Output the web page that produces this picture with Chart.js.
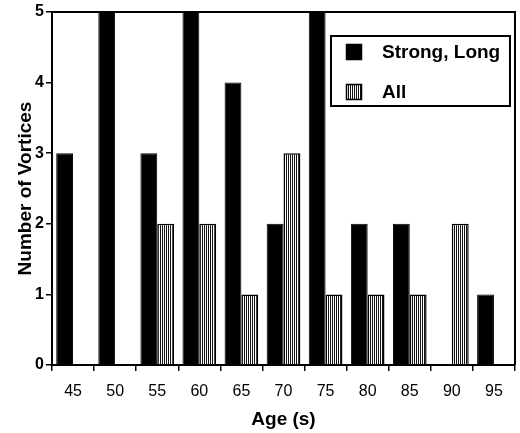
<!DOCTYPE html>
<html>
<head>
<meta charset="utf-8">
<script src="https://cdn.jsdelivr.net/npm/chart.js@4/dist/chart.umd.min.js"></script>
<style>
  html, body { margin: 0; padding: 0; background: #fff; }
  #wrap { width: 520px; height: 433px; }
</style>
</head>
<body>
<div id="wrap"><canvas id="c" width="520" height="433"></canvas></div>
<script>
const ages = ['45', '50', '55', '60', '65', '70', '75', '80', '85', '90', '95'];
const strongLong = [3, 5, 3, 5, 4, 2, 5, 2, 2, 0, 1];
const allVortices = [0, 0, 2, 2, 1, 3, 1, 1, 1, 2, 0];
const yTicks = [0, 1, 2, 3, 4, 5];

const FONT = '"Liberation Sans", Arial, sans-serif';

// vertical stripe fill for the "All" bars
const hatch = (() => {
  const p = document.createElement('canvas');
  p.width = 2; p.height = 4;
  const g = p.getContext('2d');
  g.fillStyle = '#fff';
  g.fillRect(0, 0, 2, 4);
  g.fillStyle = '#111';
  g.fillRect(0, 0, 1, 4);
  return g.createPattern(p, 'repeat');
})();

const frameAndLegend = {
  id: 'frameAndLegend',
  afterDraw(chart) {
    const { ctx, chartArea: a } = chart;
    ctx.save();
    ctx.strokeStyle = '#000';
    ctx.lineWidth = 2;
    ctx.beginPath();
    ctx.moveTo(a.left, a.top);
    ctx.lineTo(a.right, a.top);
    ctx.lineTo(a.right, a.bottom);
    ctx.stroke();

    // legend box, top right
    const x = a.right - 184, y = a.top + 24, w = 179, h = 70;
    ctx.fillStyle = '#fff';
    ctx.fillRect(x, y, w, h);
    ctx.strokeRect(x, y, w, h);
    const items = [
      { fill: '#000', label: chart.data.datasets[0].label, yy: y + 16 },
      { fill: hatch, label: chart.data.datasets[1].label, yy: y + 56 }
    ];
    ctx.font = 'bold 19px ' + FONT;
    ctx.textBaseline = 'middle';
    items.forEach(it => {
      ctx.fillStyle = it.fill;
      ctx.fillRect(x + 15, it.yy - 8, 16, 16);
      ctx.lineWidth = 1.5;
      ctx.strokeRect(x + 15.5, it.yy - 7.5, 15, 15);
      ctx.fillStyle = '#000';
      ctx.fillText(it.label, x + 51, it.yy + 1);
    });
    ctx.restore();
  }
};

new Chart(document.getElementById('c'), {
  type: 'bar',
  data: {
    labels: ages,
    datasets: [
      { label: 'Strong, Long', data: strongLong, backgroundColor: '#000', borderColor: '#000', borderWidth: 1 },
      { label: 'All', data: allVortices, backgroundColor: hatch, borderColor: '#000', borderWidth: 1.5 }
    ]
  },
  options: {
    responsive: false,
    animation: false,
    layout: { padding: { top: 12, right: 5, left: 0, bottom: 0 } },
    datasets: { bar: { categoryPercentage: 0.8, barPercentage: 1.0 } },
    plugins: { legend: { display: false }, tooltip: { enabled: false } },
    scales: {
      x: {
        afterFit: s => { s.height = 68; },
        border: { color: '#000', width: 2 },
        grid: { drawOnChartArea: false, color: '#000', lineWidth: 1.5, tickLength: 6, offset: true },
        ticks: { color: '#000', padding: 11, font: { family: FONT, size: 16 } },
        title: { display: true, text: 'Age (s)', color: '#000', padding: { top: 0, bottom: 2 }, font: { family: FONT, size: 19, weight: 'bold' } }
      },
      y: {
        min: 0,
        max: 5,
        afterFit: s => { s.width = 52; },
        afterBuildTicks: s => { s.ticks = yTicks.map(v => ({ value: v })); },
        border: { color: '#000', width: 2 },
        grid: { drawOnChartArea: false, color: '#000', lineWidth: 1.5, tickLength: 6 },
        ticks: { color: '#000', padding: 2, font: { family: FONT, size: 16, weight: 'bold' } },
        title: { display: true, text: 'Number of Vortices', color: '#000', padding: { top: 14, bottom: 0 }, font: { family: FONT, size: 19, weight: 'bold' } }
      }
    }
  },
  plugins: [frameAndLegend]
});
</script>
</body>
</html>
